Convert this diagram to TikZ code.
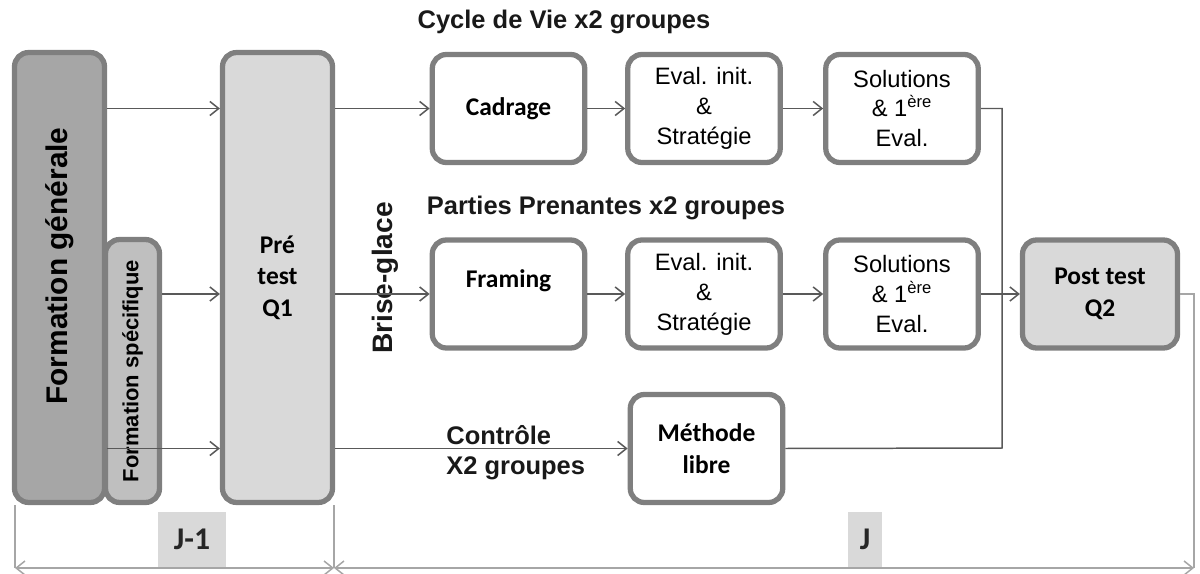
\documentclass[tikz,border=0pt]{standalone}
\usepackage{fontspec}
\setmainfont{Liberation Sans}
\newfontfamily\calib{Carlito}
\usetikzlibrary{arrows.meta}
\definecolor{bordergray}{HTML}{7F7F7F}
\definecolor{linegray}{HTML}{595959}
\definecolor{dimgray}{HTML}{A6A6A6}
\definecolor{darkfill}{HTML}{A6A6A6}
\definecolor{midfill}{HTML}{BFBFBF}
\definecolor{lightfill}{HTML}{D9D9D9}

\begin{document}
\begin{tikzpicture}[x=0.02cm, y=-0.02cm,
    >={Straight Barb[length=5pt,width=8pt]},
    box/.style={draw=bordergray, line width=3pt, rounded corners=8pt, fill=white, align=center, inner sep=0pt, text=black},
    phase/.style={box, minimum width=3.05cm, minimum height=2.16cm},
    calfont/.style={font=\calib\bfseries\fontsize{14.5}{18}\selectfont},
    arifont/.style={font=\fontsize{13.5}{17}\selectfont},
    title/.style={font=\bfseries\fontsize{14.5}{17}\selectfont, text=black!90, inner sep=0pt},
    conn/.style={->, draw=linegray, line width=0.85pt},
    extline/.style={draw=dimgray, line width=0.85pt},
    dimline/.style={<->, draw=dimgray, line width=0.85pt},
    daybox/.style={fill=lightfill, inner sep=0pt, minimum height=1.12cm, font=\calib\bfseries\fontsize{18}{20}\selectfont, text=black!85}]
    \useasboundingbox (0,0) rectangle (1200,574);

    % Training boxes
    \node[box, fill=darkfill, minimum width=1.8cm, minimum height=9cm] (fg) at (59.5,277.5) {};
    \node[rotate=90, font=\bfseries\fontsize{17}{20}\selectfont] at (60,266) {Formation générale};
    \node[box, fill=midfill, minimum width=1.08cm, minimum height=5.26cm] (fs) at (132.5,371) {};
    \node[rotate=90, font=\bfseries\fontsize{12.5}{15}\selectfont] at (fs.center) {Formation spécifique};
    \node[box, fill=lightfill, calfont, minimum width=2.2cm, minimum height=9cm] (pre) at (277.5,277.5) {Pré\\test\\Q1};

    % Group rows
    \node[phase, calfont] (cad) at (508.5,108.5) {Cadrage};
    \node[phase, arifont] (ev1) at (704,108.5) {Eval. init.\\\&\\Stratégie};
    \node[phase, arifont] (sol1) at (902,108.5) {Solutions\\\& 1\textsuperscript{ère}\\Eval.};
    \node[phase, calfont] (fra) at (508.5,294) {Framing\\~};
    \node[phase, arifont] (ev2) at (704,294) {Eval. init.\\\&\\Stratégie};
    \node[phase, arifont] (sol2) at (902,294) {Solutions\\\& 1\textsuperscript{ère}\\Eval.};
    \node[phase, calfont, fill=lightfill, minimum width=3.1cm] (post) at (1100,294) {Post test\\Q2};
    \node[phase, calfont] (met) at (706.5,448.5) {Méthode\\libre};

    % Labels
    \node[title] (cyc) at (564,22) {Cycle de Vie x2 groupes};
    \node[title] (par) at (606,208) {Parties Prenantes x2 groupes};
    \node[title, rotate=90, font=\bfseries\fontsize{16}{18}\selectfont] (bri) at (385,278) {Brise-glace};
    \node[title, anchor=west, align=left, font=\bfseries\fontsize{14.5}{17}\selectfont] (ctl) at (446,453) {Contrôle\\X2 groupes};

    % Connectors
    \draw[conn] (fg.east |- cad.west) -- (pre.west |- cad.west);
    \draw[conn] (fs.east |- fra.west) -- (pre.west |- fra.west);
    \draw[conn] (fg.east |- met.west) -- (pre.west |- met.west);
    \draw[conn] (pre.east |- cad.west) -- (cad.west);
    \draw[conn] (pre.east |- fra.west) -- (fra.west);
    \draw[conn] (pre.east |- met.west) -- (met.west);
    \draw[conn] (cad) -- (ev1);
    \draw[conn] (ev1) -- (sol1);
    \draw[conn] (fra) -- (ev2);
    \draw[conn] (ev2) -- (sol2);
    \draw[conn] (sol2) -- (post);
    \coordinate (merge) at (1002,448);
    \draw[draw=linegray, line width=0.85pt] (sol1.east) -| (merge) -- (met.east);

    % Days
    \coordinate (d0) at (15,568);
    \coordinate (d1) at (334,568);
    \coordinate (d2) at (1194,568);
    \node[daybox, minimum width=1.36cm, anchor=south] (jm1) at (192,568) {J-1};
    \node[daybox, minimum width=0.68cm, anchor=south] (jj) at (865,568) {J};
    \draw[extline] (d0) -- (d0 |- fg.south);
    \draw[extline] (d1) -- (d1 |- pre.south);
    \draw[extline] (post.east) -| (d2);
    \draw[dimline] (d0) -- (d1);
    \draw[dimline] (d1) -- (d2);
\end{tikzpicture}
\end{document}
